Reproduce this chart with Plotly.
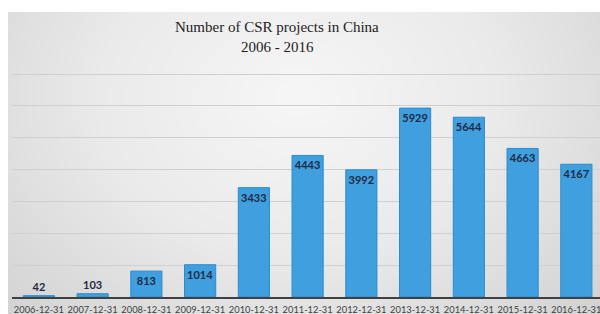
import plotly.graph_objects as go
import numpy as np

categories = ["2006-12-31", "2007-12-31", "2008-12-31", "2009-12-31", "2010-12-31",
              "2011-12-31", "2012-12-31", "2013-12-31", "2014-12-31", "2015-12-31", "2016-12-31"]
projects = [42, 103, 813, 1014, 3433, 4443, 3992, 5929, 5644, 4663, 4167]
title_lines = ["Number of CSR projects in China", "2006 - 2016"]

W, H = 600, 314
L, T, B = 12, 74, 17          # plot area edges in pixels
PANEL_L, PANEL_T = 8, 12      # gray panel edges in pixels

fig = go.Figure()

# --- background panel: soft radial gray gradient (pure styling) ---
gx = np.linspace(PANEL_L, W, 40)
gy = np.linspace(PANEL_T, H, 24)
XX, YY = np.meshgrid(gx, gy)
dist = np.sqrt(((XX - 298) / 330) ** 2 + ((YY - 98) / 260) ** 2)
fig.add_trace(go.Heatmap(
    x=gx, y=gy, z=np.clip(dist, 0, 1.2),
    colorscale=[[0, "#f6f6f6"], [0.5, "#eaeaea"], [1, "#d3d3d3"]],
    zmin=0, zmax=1.2, zsmooth="best", showscale=False, hoverinfo="skip",
    xaxis="x", yaxis="y",
))

# --- bars ---
fig.add_trace(go.Bar(
    x=categories, y=projects,
    xaxis="x2", yaxis="y2",
    marker=dict(color="#3f9fdf", line=dict(color="#2f8bcd", width=1)),
    text=[str(v) for v in projects],
    textposition="auto",
    textangle=0,
    insidetextanchor="end",
    constraintext="none",
    textfont=dict(family="Lato", size=11, color="#1f2a44", weight="bold"),
    cliponaxis=False,
    hoverinfo="skip",
))

annotations = [
    dict(text=title_lines[0], x=277 / W, xref="paper", y=1 - 27 / H, yref="paper", yanchor="middle",
         showarrow=False, xanchor="center", font=dict(family="Liberation Serif", size=15, color="#222222")),
    dict(text=title_lines[1], x=277 / W, xref="paper", y=1 - 47 / H, yref="paper", yanchor="middle",
         showarrow=False, xanchor="center", font=dict(family="Liberation Serif", size=15, color="#222222")),
]

plot_h = H - T - B
top_pad = 2  # px above the 7000 gridline so it gets drawn
fig.update_layout(
    width=W, height=H,
    margin=dict(l=0, r=0, t=0, b=0, autoexpand=False),
    paper_bgcolor="white",
    plot_bgcolor="rgba(0,0,0,0)",
    bargap=0.42,
    showlegend=False,
    hovermode=False,
    annotations=annotations,
    xaxis=dict(domain=[PANEL_L / W, 1], range=[PANEL_L, W], visible=False, fixedrange=True),
    yaxis=dict(domain=[0, 1 - PANEL_T / H], range=[H, PANEL_T], visible=False, fixedrange=True),
    xaxis2=dict(domain=[L / W, 1], anchor="y2", type="category", range=[-0.5, 10.44], showgrid=False,
                showline=True, linecolor="#404040", linewidth=2, automargin=False,
                ticks="", tickangle=0, ticklabelstandoff=3,
                tickfont=dict(family="Lato", size=9.3, color="#404040")),
    yaxis2=dict(domain=[B / H, 1 - (T - top_pad) / H], anchor="x2", automargin=False,
                range=[0, 7000 * (plot_h + top_pad) / plot_h], tickvals=[1000, 2000, 3000, 4000, 5000, 6000, 7000],
                showgrid=True, gridcolor="#cfcfcf", gridwidth=1,
                showticklabels=False, zeroline=False, showline=False),
)

fig.write_html("out.html",
               config={"displayModeBar": False},
               post_script="document.body.style.margin='0';document.body.style.overflow='hidden';")
